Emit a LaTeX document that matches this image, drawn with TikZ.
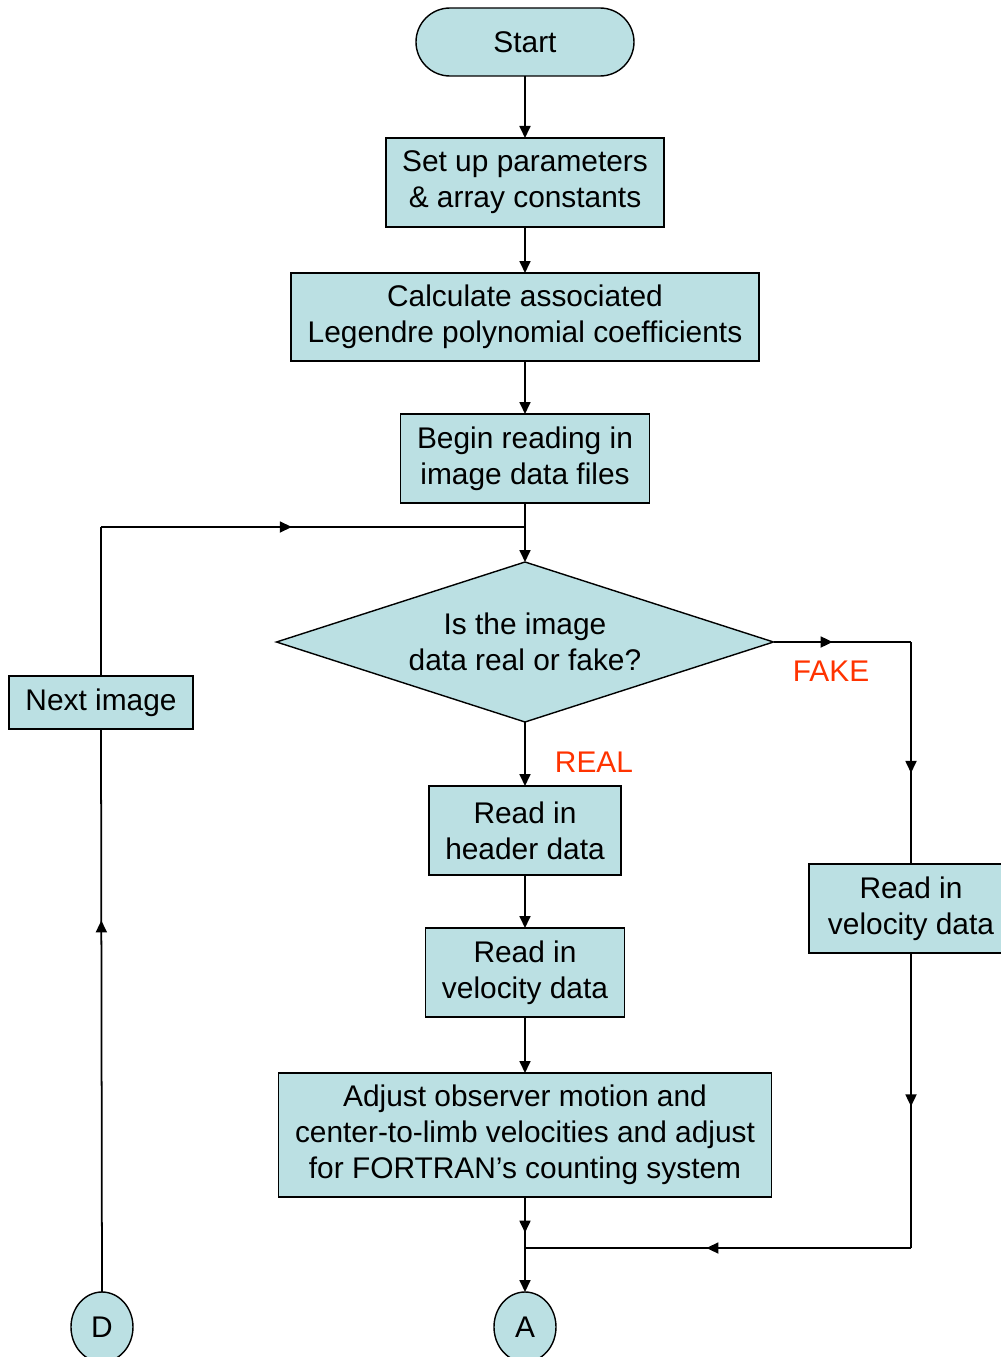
\documentclass[tikz,border=0pt]{standalone}
\usepackage{fontspec}
\setmainfont{Liberation Sans}
\usepackage{tikz}
\usetikzlibrary{positioning,shapes.geometric,arrows.meta,decorations.markings}
\definecolor{boxfill}{RGB}{187,224,227}
\definecolor{labelred}{RGB}{255,51,0}

\tikzset{
	box/.style={draw, rectangle, fill=boxfill, line width=0.8pt, outer sep=0pt, minimum height=1.78cm, align=center, inner sep=2pt},
	term/.style={draw, rectangle, rounded corners=0.68cm, fill=boxfill, line width=0.8pt, outer sep=0pt, minimum width=4.36cm, minimum height=1.36cm},
	conn/.style={draw, ellipse, fill=boxfill, line width=0.8pt, outer sep=0pt, minimum width=1.24cm, minimum height=1.4cm, inner sep=0pt},
	flow/.style={line width=1pt, -{Triangle[length=2.4mm,width=2.2mm]}},
	midarrow/.style={line width=1pt, postaction={decorate}, decoration={markings, mark=at position #1 with {\arrow{Triangle[length=2.4mm,width=2.2mm]}}}},
	lbl/.style={text=labelred}
}

\begin{document}
\begin{tikzpicture}[font=\fontsize{17}{20.5}\selectfont]
	\useasboundingbox (-10.5,0.84) rectangle (9.5,-26.3);

	% main column
	\node[term] (start) at (0,0) {Start};
	\node[box, minimum width=5.56cm, below=1.24cm of start] (setup) {Set up parameters\\\& array constants};
	\node[box, minimum width=9.36cm, minimum height=1.76cm, below=0.92cm of setup] (calc) {Calculate associated\\Legendre polynomial coefficients};
	\node[box, minimum width=4.98cm, below=1.06cm of calc] (begin) {Begin reading in\\image data files};
	\node[draw, diamond, fill=boxfill, line width=0.8pt, outer sep=0pt, aspect=3.1, minimum width=9.94cm, minimum height=3.2cm, inner sep=0pt, align=center, below=1.18cm of begin] (dia) {Is the image\\data real or fake?};
	\node[box, minimum width=3.84cm, below=1.28cm of dia] (head) {Read in\\header data};
	\node[box, minimum width=3.98cm, below=1.06cm of head] (vel) {Read in\\velocity data};
	\node[box, minimum width=9.86cm, minimum height=2.48cm, below=1.12cm of vel] (adjust) {Adjust observer motion and\\center-to-limb velocities and adjust\\for FORTRAN's counting system};
	\node[conn, below=1.9cm of adjust] (A) {A};

	% side branches
	\node[box, minimum width=4.08cm] (rvel) at (7.72,-17.33) {Read in\\velocity data};
	\node[box, minimum width=3.68cm, minimum height=1.06cm] (next) at (-8.48,-13.21) {Next image};
	\node[conn] (D) at (-8.46,-25.7) {D};

	\node[lbl] (fake) at (6.12,-12.58) {FAKE};
	\node[lbl] (real) at (1.38,-14.4) {REAL};

	\coordinate (loop) at ([yshift=-0.48cm]begin.south);
	\coordinate (nw) at (next.north |- loop);
	\coordinate (ne) at (dia.east -| rvel.north);
	\coordinate (join) at ([yshift=-1.02cm]adjust.south);
	\coordinate (se) at (rvel.south |- join);

	\draw[flow] (start) -- (setup);
	\draw[flow] (setup) -- (calc);
	\draw[flow] (calc) -- (begin);
	\draw[flow] (begin) -- (dia);
	\draw[flow] (dia) -- (head);
	\draw[flow] (head) -- (vel);
	\draw[flow] (vel) -- (adjust);
	\draw[midarrow=0.7] (adjust.south) -- (join);
	\draw[flow] (join) -- (A);

	% fake data branch
	\draw[midarrow=0.43] (dia.east) -- (ne);
	\draw[midarrow=0.59] (ne) -- (rvel.north);
	\draw[midarrow=0.52] (rvel.south) -- (se);
	\draw[midarrow=0.53] (se) -- (join);

	% loop back to the next image
	\draw[midarrow=0.66] (D.north) -- (next.south);
	\draw[line width=1pt] (next.north) -- (nw);
	\draw[midarrow=0.45] (nw) -- (loop);
\end{tikzpicture}
\end{document}
